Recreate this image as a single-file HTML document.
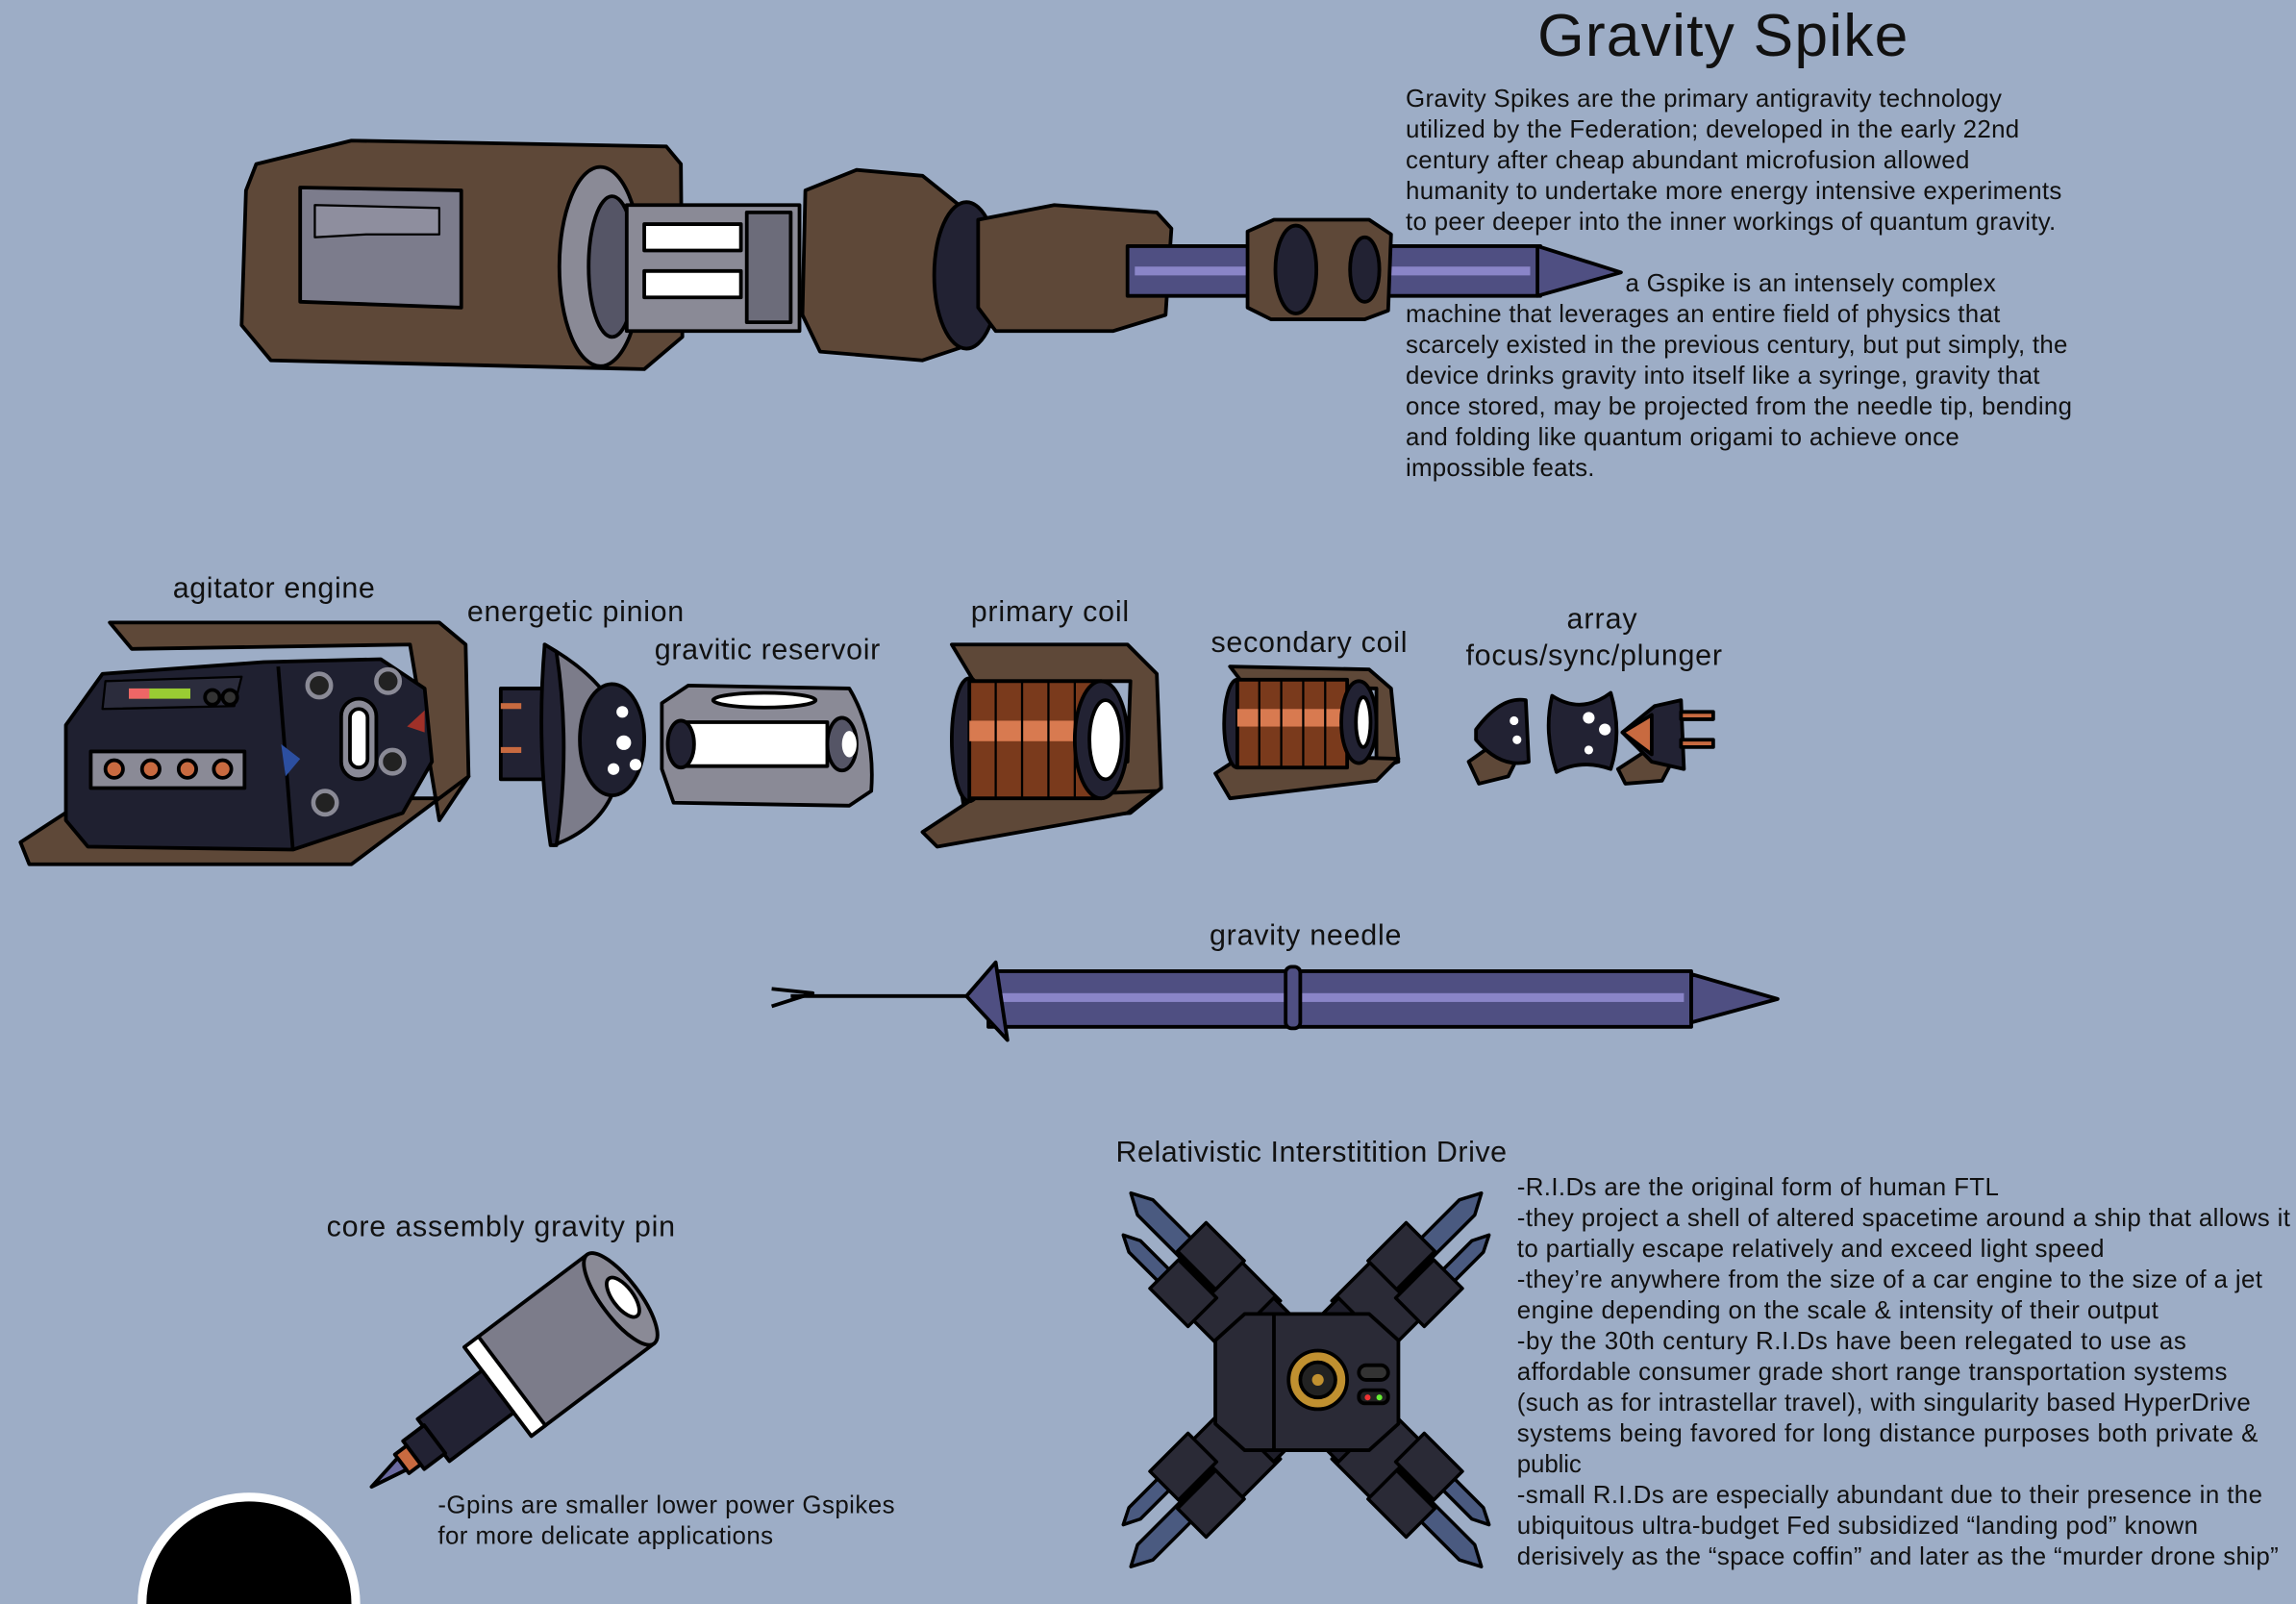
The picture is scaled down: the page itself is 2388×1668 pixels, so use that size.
<!DOCTYPE html>
<html><head><meta charset="utf-8"><style>
html,body{margin:0;padding:0;background:#9dadc6;width:2388px;height:1668px;overflow:hidden;}
svg{display:block;}
text{font-family:"Liberation Sans",sans-serif;fill:#111;}
.b{font-size:17px;}
.l{font-size:20px;}
</style></head><body>
<svg width="2388" height="1668" viewBox="0 0 1568 1095" preserveAspectRatio="none" xmlns="http://www.w3.org/2000/svg">
<rect width="1568" height="1095" fill="#9dadc6"/>
<g stroke="#000" stroke-width="2.5" stroke-linejoin="round">
<!-- TOP SPIKE -->
<polygon points="175,112 240,96 455,100 465,112 466,230 440,252 185,246 165,222 168,130" fill="#5e4838"/>
<polygon points="205,128 315,130 315,210 205,206" fill="#7c7c8c"/>
<polygon points="215,140 300,142 300,160 250,160 215,162" fill="#8e8e9e" stroke-width="1.5"/>
<ellipse cx="410" cy="182" rx="28" ry="68" fill="#8a8a96"/>
<ellipse cx="418" cy="182" rx="16" ry="48" fill="#555566"/>
<rect x="428" y="140" width="118" height="86" fill="#8a8a96"/>
<rect x="440" y="153" width="66" height="18" fill="#fff"/>
<rect x="440" y="185" width="66" height="18" fill="#fff"/>
<rect x="510" y="145" width="30" height="75" fill="#6c6c7a"/>
<polygon points="550,130 585,116 630,120 655,140 660,236 630,246 560,240 548,215" fill="#5e4838"/>
<ellipse cx="660" cy="188" rx="22" ry="50" fill="#222233"/>
<polygon points="668,150 720,140 790,145 800,156 796,215 760,226 680,226 668,210" fill="#5e4838"/>
<rect x="770" y="168" width="282" height="34" fill="#4f4f82"/>
<rect x="775" y="182" width="270" height="6" fill="#8a85c8" stroke="none"/>
<polygon points="1050,168 1107,186 1050,202" fill="#4f4f82"/>
<polygon points="852,158 870,150 935,150 950,160 948,212 932,218 868,218 852,210" fill="#5e4838"/>
<ellipse cx="885" cy="184" rx="14" ry="30" fill="#222233"/>
<ellipse cx="932" cy="184" rx="10" ry="22" fill="#222233"/>
<!-- AGITATOR -->
<polygon points="75,425 300,425 318,440 320,530 300,560 280,440 90,443" fill="#5e4838"/>
<polygon points="14,575 60,545 120,545 300,545 320,530 240,590 20,590" fill="#5e4838"/>
<polygon points="45,495 70,460 180,452 260,450 290,470 295,520 275,555 200,580 60,578 45,560" fill="#1f2030"/>
<line x1="190" y1="455" x2="200" y2="580"/>
<polygon points="72,465 165,462 160,482 70,484" fill="#2b2c3c" stroke-width="1.5"/>
<rect x="88" y="470" width="42" height="7" fill="#9c3" stroke="none"/>
<rect x="88" y="470" width="14" height="7" fill="#e66" stroke="none"/>
<circle cx="145" cy="476" r="5" fill="#333"/><circle cx="157" cy="476" r="5" fill="#333"/>
<rect x="62" y="513" width="105" height="25" fill="#8a8a96"/>
<circle cx="78" cy="525" r="6" fill="#c86a40"/><circle cx="103" cy="525" r="6" fill="#c86a40"/><circle cx="128" cy="525" r="6" fill="#c86a40"/><circle cx="152" cy="525" r="6" fill="#c86a40"/>
<rect x="233" y="477" width="24" height="55" rx="12" fill="#8a8a96"/>
<rect x="239" y="484" width="12" height="40" rx="6" fill="#fff"/>
<circle cx="218" cy="468" r="8" fill="#222" stroke="#8a8a96" stroke-width="3"/>
<circle cx="265" cy="465" r="8" fill="#222" stroke="#8a8a96" stroke-width="3"/>
<circle cx="222" cy="548" r="8" fill="#222" stroke="#8a8a96" stroke-width="3"/>
<circle cx="268" cy="520" r="8" fill="#222" stroke="#8a8a96" stroke-width="3"/>
<polygon points="192,508 205,518 195,530" fill="#2c4fa0" stroke="none"/>
<polygon points="290,485 278,496 290,500" fill="#a03028" stroke="none"/>
<!-- PINION -->
<rect x="342" y="470" width="30" height="62" fill="#222233"/>
<rect x="342" y="480" width="14" height="4" fill="#c86a40" stroke="none"/><rect x="342" y="510" width="14" height="4" fill="#c86a40" stroke="none"/>
<path d="M372,440 Q425,470 425,507 Q425,560 378,577 Z" fill="#7c7c8a"/>
<path d="M372,440 L380,445 Q390,510 380,577 L376,577 Q366,510 372,440Z" fill="#222233"/>
<ellipse cx="418" cy="505" rx="22" ry="38" fill="#1f2030"/>
<circle cx="425" cy="486" r="4" fill="#fff" stroke="none"/><circle cx="426" cy="507" r="5" fill="#fff" stroke="none"/><circle cx="419" cy="525" r="4" fill="#fff" stroke="none"/><circle cx="434" cy="522" r="4" fill="#fff" stroke="none"/>
<!-- RESERVOIR -->
<path d="M452,480 L470,468 L580,470 Q598,500 595,540 L580,550 L460,548 L452,525 Z" fill="#8a8a96"/>
<ellipse cx="522" cy="478" rx="35" ry="5" fill="#fff"/>
<rect x="465" y="493" width="100" height="30" fill="#fff"/>
<ellipse cx="465" cy="508" rx="9" ry="16" fill="#222233"/>
<ellipse cx="575" cy="508" rx="10" ry="18" fill="#555566"/>
<ellipse cx="580" cy="508" rx="5" ry="9" fill="#fff" stroke="none"/>
<!-- PRIMARY COIL -->
<polygon points="650,440 770,440 790,460 793,538 772,555 660,562 655,530 770,520 772,465 665,465" fill="#5e4838"/>
<polygon points="630,568 665,545 790,540 770,555 640,578" fill="#5e4838"/>
<ellipse cx="662" cy="505" rx="12" ry="42" fill="#222233"/>
<rect x="662" y="465" width="90" height="80" fill="#7a3a1c"/>
<rect x="662" y="492" width="90" height="14" fill="#d87a50" stroke="none"/>
<g fill="none" stroke-width="1.5"><line x1="680" y1="465" x2="680" y2="545"/><line x1="698" y1="465" x2="698" y2="545"/><line x1="716" y1="465" x2="716" y2="545"/><line x1="734" y1="465" x2="734" y2="545"/></g>
<ellipse cx="752" cy="505" rx="18" ry="40" fill="#222233"/>
<ellipse cx="755" cy="505" rx="11" ry="27" fill="#fff"/>
<!-- SECONDARY COIL -->
<polygon points="840,455 935,457 950,470 955,520 940,525 940,470 850,468" fill="#5e4838"/>
<polygon points="830,528 850,515 955,518 940,533 840,545" fill="#5e4838"/>
<ellipse cx="845" cy="494" rx="9" ry="30" fill="#222233"/>
<rect x="845" y="464" width="75" height="60" fill="#7a3a1c"/>
<rect x="845" y="484" width="75" height="12" fill="#d87a50" stroke="none"/>
<g fill="none" stroke-width="1.5"><line x1="860" y1="464" x2="860" y2="524"/><line x1="875" y1="464" x2="875" y2="524"/><line x1="890" y1="464" x2="890" y2="524"/><line x1="905" y1="464" x2="905" y2="524"/></g>
<ellipse cx="928" cy="493" rx="12" ry="28" fill="#222233"/>
<ellipse cx="931" cy="493" rx="5" ry="17" fill="#fff"/>
<!-- ARRAY -->
<polygon points="1003,520 1020,508 1040,510 1030,530 1010,535" fill="#5e4838"/>
<path d="M1008,498 Q1025,475 1042,478 L1044,520 Q1025,525 1008,505Z" fill="#222233"/>
<circle cx="1034" cy="492" r="3" fill="#fff" stroke="none"/><circle cx="1036" cy="505" r="3" fill="#fff" stroke="none"/>
<path d="M1060,475 Q1080,488 1100,473 Q1108,500 1100,525 Q1080,518 1063,527 Q1054,500 1060,475Z" fill="#222233"/>
<circle cx="1085" cy="490" r="4" fill="#fff" stroke="none"/><circle cx="1096" cy="498" r="4" fill="#fff" stroke="none"/><circle cx="1085" cy="512" r="3" fill="#fff" stroke="none"/>
<polygon points="1105,525 1125,512 1145,514 1135,533 1110,535" fill="#5e4838"/>
<polygon points="1108,500 1130,482 1148,478 1150,525 1128,520" fill="#222233"/>
<polygon points="1108,500 1128,488 1128,515" fill="#c86a40"/>
<rect x="1148" y="486" width="22" height="5" fill="#c86a40"/><rect x="1148" y="505" width="22" height="5" fill="#c86a40"/>
<!-- NEEDLE -->
<polyline points="527,675 555,678 527,687" fill="none"/>
<line x1="540" y1="680" x2="662" y2="680"/>
<rect x="675" y="663" width="480" height="38" fill="#4f4f82"/>
<rect x="680" y="678" width="470" height="6" fill="#8a85c8" stroke="none"/>
<polygon points="1155,665 1214,682 1155,698" fill="#4f4f82"/>
<path d="M660,680 L680,657 L688,710 Z" fill="#4f4f82"/>
<rect x="878" y="660" width="10" height="42" rx="4" fill="#4f4f82"/>
<!-- GPIN -->
<g transform="translate(340,950) rotate(-37)">
<rect x="0" y="-38" width="105" height="76" fill="#7c7c8a"/>
<rect x="0" y="-38" width="12" height="76" fill="#fff"/>
<ellipse cx="105" cy="0" rx="13" ry="38" fill="#8a8a96"/>
<ellipse cx="107" cy="0" rx="7" ry="16" fill="#fff"/>
<rect x="-55" y="-18" width="55" height="36" fill="#222233"/>
<rect x="-72" y="-12" width="18" height="24" fill="#222233"/>
<rect x="-82" y="-8" width="10" height="16" fill="#c86a40"/>
<polygon points="-82,-5 -108,0 -82,5" fill="#6a6aa0"/>
</g>
<!-- RID -->
<defs>
<g id="arm">
<polygon points="-80,-14 -175,-14 -190,-6 -175,2 -80,2" fill="#4a5a80"/>
<polygon points="-80,14 -160,14 -172,20 -160,26 -80,26" fill="#4a5a80"/>
<rect x="-95" y="-28" width="40" height="56" fill="#2a2a36"/>
<rect x="-135" y="-30" width="40" height="30" fill="#2a2a36"/>
<rect x="-130" y="4" width="40" height="30" fill="#2a2a36"/>
<rect x="-60" y="-26" width="25" height="52" fill="#1e1e2a"/>
</g>
</defs>
<g transform="translate(892,942) scale(0.92)">
<use href="#arm" transform="rotate(45)"/>
<use href="#arm" transform="rotate(135) scale(1,-1)"/>
<use href="#arm" transform="rotate(-45) scale(1,-1)"/>
<use href="#arm" transform="rotate(-135)"/>
</g>
<polygon points="830,915 850,897 935,897 955,915 955,972 935,990 850,990 830,972" fill="#2a2a36"/>
<line x1="870" y1="897" x2="870" y2="990"/>
<circle cx="900" cy="942" r="20" fill="#c09030"/>
<circle cx="900" cy="942" r="12" fill="#222"/>
<circle cx="900" cy="942" r="4" fill="#c09030" stroke="none"/>
<rect x="928" y="932" width="20" height="10" rx="5" fill="#333"/>
<rect x="928" y="949" width="20" height="9" rx="4" fill="#222"/>
<circle cx="934" cy="954" r="2" fill="#e33" stroke="none"/><circle cx="942" cy="954" r="2" fill="#6e3" stroke="none"/>
</g>
<path d="M94,1095 A76,76 0 0 1 246,1095 Z" fill="#fff"/>
<path d="M100,1095 A70,70 0 0 1 240,1095 Z" fill="#000"/>

<!-- TEXT -->
<text x="1050" y="38" font-size="41" textLength="253">Gravity Spike</text>
<g class="b">
<text x="960" y="73" textLength="407">Gravity Spikes are the primary antigravity technology</text>
<text x="960" y="94" textLength="419">utilized by the Federation; developed in the early 22nd</text>
<text x="960" y="115" textLength="385">century after cheap abundant microfusion allowed</text>
<text x="960" y="136" textLength="448">humanity to undertake more energy intensive experiments</text>
<text x="960" y="157" textLength="444">to peer deeper into the inner workings of quantum gravity.</text>
<text x="1110" y="199" textLength="253">a Gspike is an intensely complex</text>
<text x="960" y="220" textLength="406">machine that leverages an entire field of physics that</text>
<text x="960" y="241" textLength="452">scarcely existed in the previous century, but put simply, the</text>
<text x="960" y="262" textLength="433">device drinks gravity into itself like a syringe, gravity that</text>
<text x="960" y="283" textLength="455">once stored, may be projected from the needle tip, bending</text>
<text x="960" y="304" textLength="378">and folding like quantum origami to achieve once</text>
<text x="960" y="325" textLength="129">impossible feats.</text>
</g>
<g class="l">
<text x="118" y="408" textLength="138">agitator engine</text>
<text x="319" y="424" textLength="148">energetic pinion</text>
<text x="447" y="450" textLength="154">gravitic reservoir</text>
<text x="663" y="424" textLength="108">primary coil</text>
<text x="827" y="445" textLength="134">secondary coil</text>
<text x="1070" y="429" textLength="48">array</text>
<text x="1001" y="454" textLength="175">focus/sync/plunger</text>
<text x="826" y="645" textLength="131">gravity needle</text>
<text x="223" y="844" textLength="238">core assembly gravity pin</text>
<text x="762" y="793" textLength="267">Relativistic Interstitition Drive</text>
</g>
<g class="b">
<text x="299" y="1033" textLength="312">-Gpins are smaller lower power Gspikes</text>
<text x="299" y="1054" textLength="229">for more delicate applications</text>
<text x="1036" y="816" textLength="329">-R.I.Ds are the original form of human FTL</text>
<text x="1036" y="837" textLength="528">-they project a shell of altered spacetime around a ship that allows it</text>
<text x="1036" y="858" textLength="401">to partially escape relatively and exceed light speed</text>
<text x="1036" y="879" textLength="509">-they’re anywhere from the size of a car engine to the size of a jet</text>
<text x="1036" y="900" textLength="438">engine depending on the scale &amp; intensity of their output</text>
<text x="1036" y="921" textLength="457">-by the 30th century R.I.Ds have been relegated to use as</text>
<text x="1036" y="942" textLength="485">affordable consumer grade short range transportation systems</text>
<text x="1036" y="963" textLength="501">(such as for intrastellar travel), with singularity based HyperDrive</text>
<text x="1036" y="984" textLength="506">systems being favored for long distance  purposes both private &amp;</text>
<text x="1036" y="1005" textLength="44">public</text>
<text x="1036" y="1026" textLength="509">-small R.I.Ds are especially abundant due to their presence in the</text>
<text x="1036" y="1047" textLength="465">ubiquitous ultra-budget Fed subsidized “landing pod” known</text>
<text x="1036" y="1068" textLength="520">derisively as the “space coffin” and later as the “murder drone ship”</text>
</g>
</svg>
</body></html>
